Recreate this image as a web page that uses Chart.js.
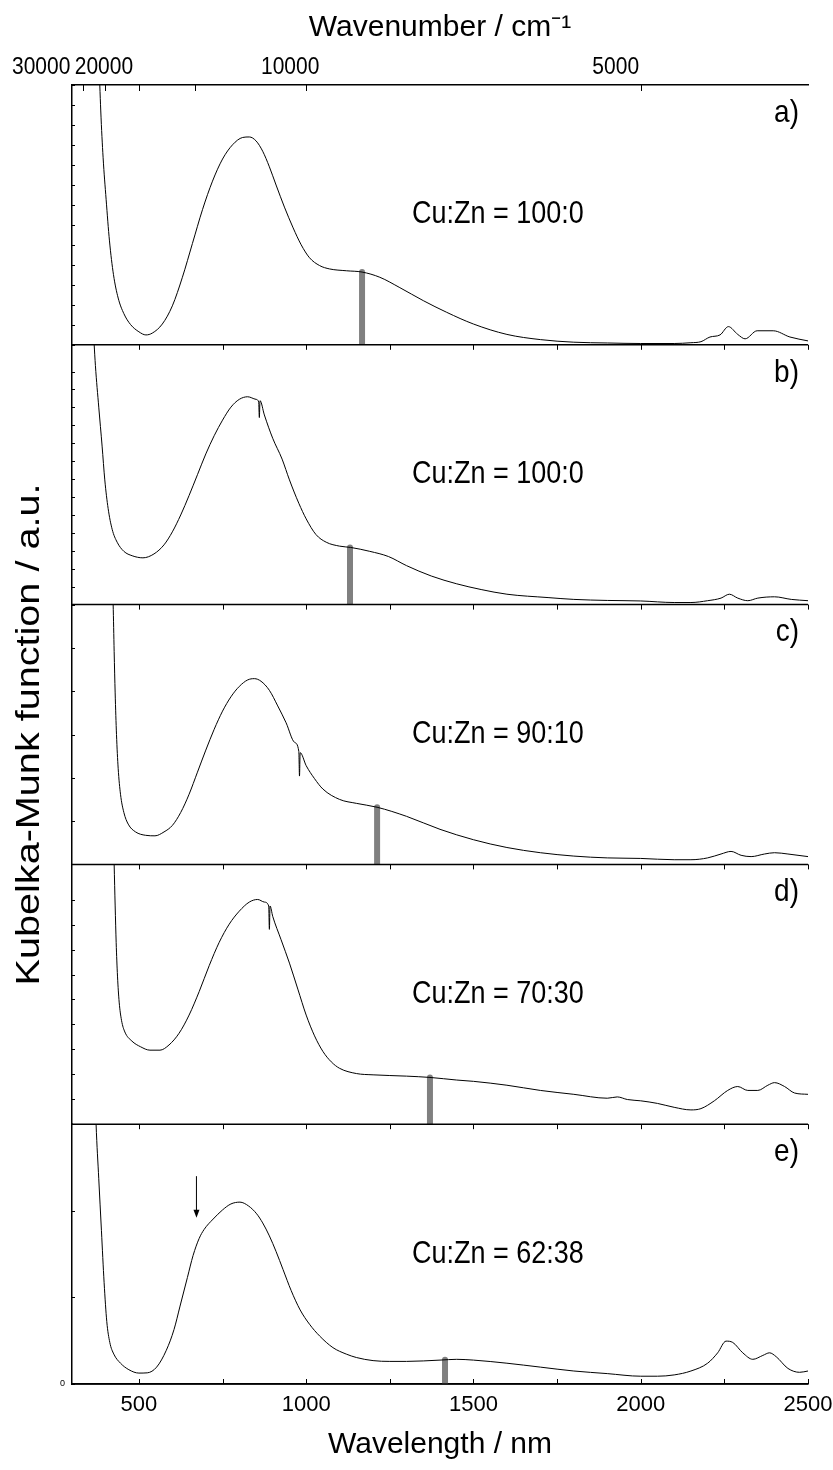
<!DOCTYPE html>
<html>
<head>
<meta charset="utf-8">
<title>Kubelka-Munk spectra</title>
<script src="https://cdn.jsdelivr.net/npm/chart.js@4.4.1/dist/chart.umd.min.js"></script>
<style>
  html, body { margin: 0; padding: 0; background: #fff; }
</style>
</head>
<body>
<canvas id="km" width="833" height="1470"></canvas>
<script>
// wavelength (nm) / Kubelka-Munk function (a.u., each panel 0-100)
const waveA = [372, 380, 386, 393, 402, 412, 424, 438, 455, 475, 500, 521, 540, 570, 600, 630, 660, 690, 720, 750, 780, 810, 830, 850, 870, 890, 910, 935, 961, 985, 1010, 1040, 1070, 1120, 1167, 1220, 1280, 1350, 1420, 1500, 1600, 1700, 1800, 1900, 2000, 2100, 2150, 2180, 2207, 2237, 2262, 2290, 2312, 2348, 2396, 2446, 2500];
const kmA = [150, 112, 90, 72, 56, 40, 27, 18, 12, 7.8, 5, 3.8, 4.5, 8, 15, 26, 39, 52, 63, 71.5, 77, 79.8, 80, 78.5, 74.5, 68.5, 61.5, 53, 45, 38.5, 33.5, 30.5, 29.2, 28.5, 28, 26, 22, 17, 12.5, 8, 4, 2, 1, 0.7, 0.5, 0.5, 0.8, 1.2, 3, 3.8, 7, 4, 2.3, 5.4, 5.4, 3, 1.5];

const waveB = [362, 370, 380, 390, 398, 408, 420, 435, 455, 480, 512, 545, 575, 600, 625, 650, 675, 700, 725, 750, 775, 800, 825, 850, 858, 860, 862, 875, 900, 928, 950, 978, 1000, 1029, 1060, 1100, 1133, 1190, 1246, 1300, 1374, 1450, 1523, 1600, 1723, 1800, 1900, 2000, 2100, 2150, 2200, 2240, 2265, 2290, 2320, 2350, 2400, 2450, 2500];
const kmB = [110, 92, 76, 61, 48, 37, 29, 24, 20.5, 18.8, 18, 19.5, 23, 28, 34.5, 42, 50, 58, 65, 71, 76, 79, 80, 79, 78, 72, 78.5, 73, 64, 56, 48, 39, 33, 27, 24, 22.5, 22, 20.5, 18.5, 15, 11, 8, 5.8, 4, 2.7, 2, 1.6, 1.4, 0.8, 0.8, 1.5, 2.5, 4, 2.5, 1.5, 2.5, 3, 2, 1.5];

const waveC = [418, 423, 426, 429, 433, 438, 445, 455, 468, 490, 520, 548, 575, 600, 625, 650, 675, 700, 725, 750, 775, 800, 825, 845, 865, 890, 915, 940, 965, 978, 980, 982, 1000, 1025, 1050, 1100, 1150, 1212, 1300, 1400, 1500, 1600, 1700, 1800, 1900, 2000, 2100, 2150, 2200, 2240, 2270, 2300, 2330, 2370, 2400, 2440, 2500];
const kmC = [120, 100, 82, 66, 50, 37, 27, 20, 15.5, 12.5, 11.2, 11, 12.5, 15, 20, 27, 35.5, 44, 52, 59, 64.5, 68.5, 71, 71.5, 70.5, 67, 61, 54.5, 47, 43.5, 34, 43, 38, 33, 29, 25, 23.5, 22, 18.5, 13.5, 9.5, 6.5, 4.5, 3.2, 2.5, 2.3, 1.8, 1.8, 2.5, 4, 5, 3.5, 3, 4, 4.5, 4, 3];

const waveD = [420, 426, 429, 432, 436, 441, 448, 458, 479, 505, 533, 563, 590, 620, 650, 680, 710, 740, 770, 800, 830, 855, 875, 888, 890, 892, 900, 925, 950, 975, 1000, 1025, 1050, 1075, 1100, 1150, 1200, 1300, 1370, 1450, 1500, 1600, 1700, 1800, 1900, 1930, 1960, 2000, 2050, 2100, 2150, 2180, 2220, 2260, 2290, 2320, 2350, 2380, 2400, 2430, 2460, 2500];
const kmD = [130, 100, 84, 70, 57, 47, 40, 35.5, 32, 29.8, 28.5, 28.5, 30.5, 35, 42, 51, 61, 70, 77, 82, 85.5, 86.5, 85.5, 84, 75, 84, 80, 71, 62, 52, 42, 34, 28, 24, 21.5, 19.5, 19, 18.5, 18, 17, 16.5, 15, 13, 11.5, 10, 10.5, 9.5, 9, 8, 6.5, 5.5, 6, 9, 13, 14.5, 13, 13, 15, 16, 14.5, 12, 11.5];

const waveE = [365, 372, 380, 388, 396, 404, 413, 425, 445, 470, 500, 525, 553, 582, 605, 623, 645, 662, 680, 695, 722, 750, 775, 802, 828, 852, 870, 890, 910, 931, 955, 982, 1010, 1040, 1080, 1120, 1150, 1200, 1250, 1300, 1400, 1450, 1500, 1600, 1700, 1800, 1900, 2000, 2050, 2100, 2150, 2200, 2230, 2255, 2275, 2305, 2335, 2365, 2385, 2405, 2440, 2475, 2500];
const kmE = [130, 100, 79, 59, 39, 24, 16, 11.5, 8, 5.5, 4.2, 4.3, 6.5, 13, 21, 30, 41, 49.5, 56, 59.5, 63.5, 67, 69.3, 70, 68.5, 65.5, 62, 57, 51, 44, 36, 28.5, 23, 18.5, 14, 11.5, 10.2, 9, 8.7, 8.7, 9.2, 9.5, 9.2, 8, 6.5, 5, 4, 3, 3, 3.5, 5, 8, 12, 16.5, 16, 12, 9.5, 11, 12, 10.5, 6, 4.5, 5];

const panelTags = ['a)', 'b)', 'c)', 'd)', 'e)'];
const ratios = ['Cu:Zn = 100:0', 'Cu:Zn = 100:0', 'Cu:Zn = 90:10', 'Cu:Zn = 70:30', 'Cu:Zn = 62:38'];
// grey markers (nm, height)
const markerNm = [1167, 1131, 1212, 1370, 1415];
const markerKm = [28, 22, 22, 18, 9.3];
const yStep = [7.7, 6.9, 16.7, 9.6, 33.4];
// arrow in panel e: wavelength, from, to
const arrowNm = 672, arrowFrom = 80, arrowTo = 64;

const xTickNm = [500, 750, 1000, 1250, 1500, 1750, 2000, 2250, 2500];
const xLabelNm = [500, 1000, 1500, 2000, 2500];
const wnTicks = [30000, 25000, 20000, 15000, 10000, 5000];
const wnLabels = [30000, 20000, 10000, 5000];

const waves = [waveA, waveB, waveC, waveD, waveE];
const kms = [kmA, kmB, kmC, kmD, kmE];
const yIds = ['ya', 'yb', 'yc', 'yd', 'ye'];
const FONT = '"Liberation Sans", Arial, sans-serif';
// the original figure sits its wavenumber labels left of their ticks
const wnLabelShift = [-42, -35, -16, -25];

Chart.defaults.font.family = FONT;
Chart.defaults.color = '#000';

const curves = yIds.map((id, i) => ({
  data: waves[i].map((x, j) => ({x: x, y: kms[i][j]})),
  yAxisID: id,
  borderColor: '#000',
  borderWidth: 1,
  pointRadius: 0,
  cubicInterpolationMode: 'monotone',
  fill: false
}));
const markers = yIds.map((id, i) => ({
  data: [{x: markerNm[i], y: 0}, {x: markerNm[i], y: markerKm[i]}],
  yAxisID: id,
  borderColor: '#808080',
  borderWidth: 6,
  borderCapStyle: 'round',
  pointRadius: 0,
  tension: 0,
  fill: false
}));

const scales = {
  x: {
    type: 'linear', position: 'bottom', min: 300, max: 2500,
    grid: {display: false, drawTicks: false},
    border: {display: true, color: '#000', width: 1.5},
    afterBuildTicks: s => { s.ticks = xTickNm.map(v => ({value: v})); },
    ticks: {
      autoSkip: false, maxRotation: 0, minRotation: 0, padding: 8,
      font: {size: 22},
      callback: v => xLabelNm.includes(v) ? String(v) : ''
    },
    title: {display: true, text: 'Wavelength / nm', font: {size: 30}, padding: {top: 0, bottom: 7}},
    afterFit: s => { s.height = 86; s.paddingLeft = 0; s.paddingRight = 0; }
  },
  x2: {
    type: 'linear', position: 'top', min: 300, max: 2500,
    grid: {display: false, drawTicks: false},
    border: {display: true, color: '#000', width: 1.5},
    afterBuildTicks: s => { s.ticks = wnTicks.map(w => ({value: 1e7 / w})); },
    ticks: {display: false},
    title: {display: true, text: 'Wavenumber / cm⁻¹', font: {size: 30}, padding: {top: 10, bottom: 0}},
    afterFit: s => { s.height = 85; s.paddingLeft = 0; s.paddingRight = 0; }
  }
};
// stacked panels, bottom one defined first
for (let i = yIds.length - 1; i >= 0; i--) {
  scales[yIds[i]] = {
    type: 'linear', position: 'left', stack: 'panels', stackWeight: 1,
    min: 0, max: 100,
    grid: {display: false, drawTicks: false},
    border: {display: true, color: '#000', width: 1.5},
    ticks: {
      display: i === 4, stepSize: yStep[i], padding: 7,
      font: {size: 9},
      callback: v => v === 0 ? '0' : ''
    },
    afterFit: s => { s.width = 72; }
  };
}

// text drawn slightly taller than wide, like the scanned figure
function tallText(ctx, str, x, y, size, align) {
  ctx.save();
  ctx.translate(x, y);
  ctx.scale(1, 1.15);
  ctx.font = size + 'px ' + FONT;
  ctx.textAlign = align;
  ctx.textBaseline = 'middle';
  ctx.fillText(str, 0, 0);
  ctx.restore();
}

const decor = {
  id: 'decor',
  afterDraw(chart) {
    const ctx = chart.ctx;
    const ca = chart.chartArea;
    const x = chart.scales.x;
    const x2 = chart.scales.x2;
    const seg = (x1, y1, xx, y2) => { ctx.beginPath(); ctx.moveTo(x1, y1); ctx.lineTo(xx, y2); ctx.stroke(); };
    ctx.save();
    ctx.strokeStyle = '#000';
    ctx.fillStyle = '#000';

    yIds.forEach((id, i) => {
      const ys = chart.scales[id];
      ctx.lineWidth = 1.5;
      seg(ca.left, ys.bottom, ca.right, ys.bottom);
      ctx.lineWidth = 1;
      // y ticks inward
      ys.ticks.forEach(t => {
        const py = Math.round(ys.getPixelForValue(t.value)) + 0.5;
        seg(ca.left, py, ca.left + 3, py);
      });
      // wavelength ticks hanging from each panel top
      if (i > 0) {
        xTickNm.forEach(nm => {
          const px = Math.round(x.getPixelForValue(nm)) + 0.5;
          seg(px, ys.top, px, ys.top + 5);
        });
      }
      const mid = (ys.top + ys.bottom) / 2;
      tallText(ctx, ratios[i], ca.left + 340, mid, 27, 'left');
      tallText(ctx, panelTags[i], ca.right - 9, ys.top + 28, 28, 'right');
    });

    // bottom axis ticks point up
    ctx.lineWidth = 1;
    xTickNm.forEach(nm => {
      const px = Math.round(x.getPixelForValue(nm)) + 0.5;
      seg(px, ca.bottom, px, ca.bottom - 5);
    });
    // wavenumber ticks point down
    x2.ticks.forEach(t => {
      const px = Math.round(x2.getPixelForValue(t.value)) + 0.5;
      seg(px, ca.top, px, ca.top + 6);
    });
    // wavenumber labels
    wnLabels.forEach((wn, k) => {
      tallText(ctx, String(wn), x2.getPixelForValue(1e7 / wn) + wnLabelShift[k], ca.top - 18, 21, 'center');
    });

    // arrow in panel e
    const ye = chart.scales.ye;
    const ax = x.getPixelForValue(arrowNm);
    const a0 = ye.getPixelForValue(arrowFrom), a1 = ye.getPixelForValue(arrowTo);
    seg(ax, a0, ax, a1 - 6);
    ctx.beginPath();
    ctx.moveTo(ax - 3, a1 - 8);
    ctx.lineTo(ax + 3, a1 - 8);
    ctx.lineTo(ax, a1);
    ctx.closePath();
    ctx.fill();

    // y title
    ctx.save();
    ctx.translate(30, (ca.top + ca.bottom) / 2);
    ctx.rotate(-Math.PI / 2);
    ctx.scale(1.2, 1);
    ctx.font = '33px ' + FONT;
    ctx.textAlign = 'center';
    ctx.textBaseline = 'middle';
    ctx.fillText('Kubelka-Munk function / a.u.', 0, 0);
    ctx.restore();

    ctx.restore();
  }
};

new Chart(document.getElementById('km'), {
  type: 'line',
  data: {datasets: curves.concat(markers)},
  options: {
    responsive: false,
    animation: false,
    events: [],
    layout: {padding: {left: 0, right: 25, top: 0, bottom: 0}},
    plugins: {legend: {display: false}, tooltip: {enabled: false}},
    scales: scales
  },
  plugins: [decor]
});
</script>
</body>
</html>
